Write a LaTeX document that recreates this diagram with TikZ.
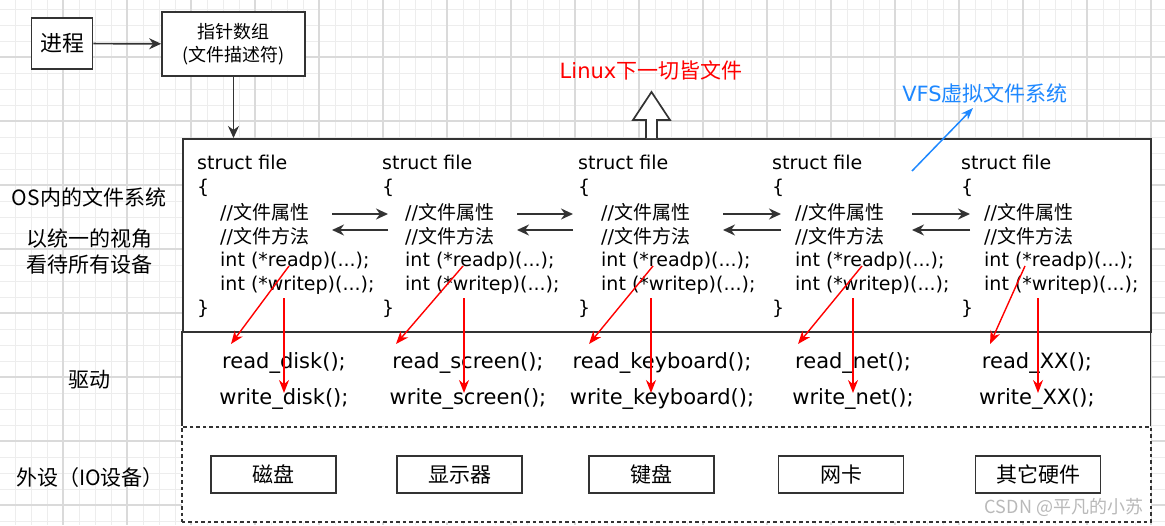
\documentclass[tikz,border=0pt]{standalone}
\usepackage{fontspec}
\setmainfont{DejaVu Sans}
\newfontfamily\zh{Noto Sans CJK SC}
\usetikzlibrary{arrows.meta}
\newcommand\setfs[1]{\fontsize{#1}{#1}\selectfont}
\definecolor{ln}{HTML}{333333}
\definecolor{vfsblue}{HTML}{1E88FF}
\definecolor{gmin}{HTML}{EDEDED}
\definecolor{gmaj}{HTML}{DADADA}
\begin{document}
\begin{tikzpicture}[x=1pt,y=-1pt,
  box/.style={draw=ln, line width=1.7pt, fill=white, inner sep=0pt},
  lbl/.style={font=\zh\setfs{21}, inner sep=0pt},
  code/.style={font=\setfs{19}, inner sep=0pt, anchor=base west},
  drvtxt/.style={font=\setfs{21}, inner sep=0pt, anchor=base},
  blk/.style={draw=ln, line width=1.7pt, -{Stealth[length=12pt,width=11pt]}},
  redarr/.style={draw=red, line width=1.4pt, -{Stealth[length=13pt,width=10pt]}},
  dev/.style={box, minimum width=125pt, minimum height=37pt, font=\zh\setfs{21}},
]
\useasboundingbox (0,0) rectangle (1165,525);
\fill[white] (0,0) rectangle (1165,525);
% background grid
\foreach \x in {15,31,...,1165} \draw[gmin, line width=1pt] (\x,0) -- (\x,525);
\foreach \y in {9,25,...,525} \draw[gmin, line width=1pt] (0,\y) -- (1165,\y);
\foreach \x in {63,127,...,1165} \draw[gmaj, line width=1.2pt] (\x,0) -- (\x,525);
\foreach \y in {57,121,...,525} \draw[gmaj, line width=1.2pt] (0,\y) -- (1165,\y);

% top boxes
\node[box, minimum width=61pt, minimum height=51pt, font=\zh\setfs{22}] (proc) at (62,43.5) {进程};
\node[box, minimum width=143pt, minimum height=64pt, font=\zh\fontsize{18}{23}\selectfont, align=center] (fd) at (233.5,44) {指针数组\\(文件描述符)};
\draw[blk] (proc) -- (fd);

% main boxes
\node[fill=white, inner sep=0pt, minimum width=968pt, minimum height=95pt, anchor=north west] (drv) at (182,331) {};
\draw[ln, line width=1.7pt] (drv.north west) -- (drv.south west) (drv.north east) -- (drv.south east);
\node[box, minimum width=968pt, minimum height=193pt, anchor=north west] (fs) at (182,138) {};
\node[draw=ln, line width=1.5pt, dash pattern=on 3.5pt off 3pt, fill=white, inner sep=0pt, minimum width=969pt, minimum height=95pt, anchor=north west] (hw) at (181,426) {};
\draw[blk] (fd.south) -- (fd.south |- fs.north);

% left labels
\node[lbl] (osfs) at (89,197) {OS内的文件系统};
\node[lbl] (view1) at (90,239) {以统一的视角};
\node[lbl] (view2) at (90,265) {看待所有设备};
\node[lbl] (drvlbl) at (89,380) {驱动};
\node[lbl] (hwlbl) at (90,478) {外设（IO设备）};

% top annotations
\node[font=\setfs{21}, text=red, inner sep=0pt] (linux) at (651,70) {Linux{\zh 下一切皆文件}};
\draw[ln, line width=1.7pt, fill=white] (646,138) -- (646,120) -- (633,120) -- (651.5,92) -- (670,120) -- (657,120) -- (657,138);
\node[font=\setfs{21}, text=vfsblue, inner sep=0pt] (vfs) at (985,93) {VFS{\zh 虚拟文件系统}};
\coordinate (vfsfrom) at (912,171);
\coordinate (vfsto) at (973,108);
\draw[line width=1.5pt, vfsblue, -{Stealth[length=12pt,width=9pt]}] (vfsfrom) -- (vfsto);

% struct file columns
\foreach \i/\x in {1/197,2/382,3/578,4/772,5/961} {
  \node[code] (c\i-a) at (\x,169) {struct file};
  \node[code] (c\i-b) at (\x,193) {\{};
  \node[code] (c\i-c) at (\x+23,219) {//{\zh 文件属性}};
  \node[code] (c\i-d) at (\x+23,243) {//{\zh 文件方法}};
  \node[code] (c\i-e) at (\x+23,266) {int (*readp)(...);};
  \node[code] (c\i-f) at (\x+23,290) {int (*writep)(...);};
  \node[code] (c\i-g) at (\x,314) {\}};
}

% driver functions
\foreach \i/\x/\n in {1/284/disk,2/468/screen,3/662/keyboard,4/853/net,5/1037/XX} {
  \node[drvtxt] (rd\i) at (\x,368) {read\_\n();};
  \node[drvtxt] (wr\i) at (\x,404) {write\_\n();};
}

% black arrows between struct files
\foreach \i/\a/\b in {1/332/388,2/517/573,3/723/781,4/912/970} {
  \coordinate (ra\i) at (\a,214);
  \coordinate (rb\i) at (\b,214);
  \coordinate (la\i) at (\b,230);
  \coordinate (lb\i) at (\a,230);
  \draw[blk] (ra\i) -- (rb\i);
  \draw[blk] (la\i) -- (lb\i);
}

% red arrows to drivers
\foreach \i/\sx/\ex/\vx in {1/289/231/284, 2/463/396/464, 3/653/589/651, 4/862/798/853, 5/1025/990/1038} {
  \coordinate (rs\i) at (\sx,266);
  \coordinate (re\i) at (\ex,344);
  \coordinate (ws\i) at (\vx,298);
  \coordinate (we\i) at (\vx,393);
  \draw[redarr] (rs\i) -- (re\i);
  \draw[redarr] (ws\i) -- (we\i);
}

% devices
\node[dev] (d1) at (273.5,474.5) {磁盘};
\node[dev] (d2) at (459.5,474.5) {显示器};
\node[dev] (d3) at (651.5,474.5) {键盘};
\node[dev] (d4) at (841,474.5) {网卡};
\node[dev] (d5) at (1038,474.5) {其它硬件};

% watermark
\node[font=\zh\setfs{18}, text=gray!55, inner sep=0pt] (wm) at (1064,507) {CSDN @平凡的小苏};
\end{tikzpicture}
\end{document}
